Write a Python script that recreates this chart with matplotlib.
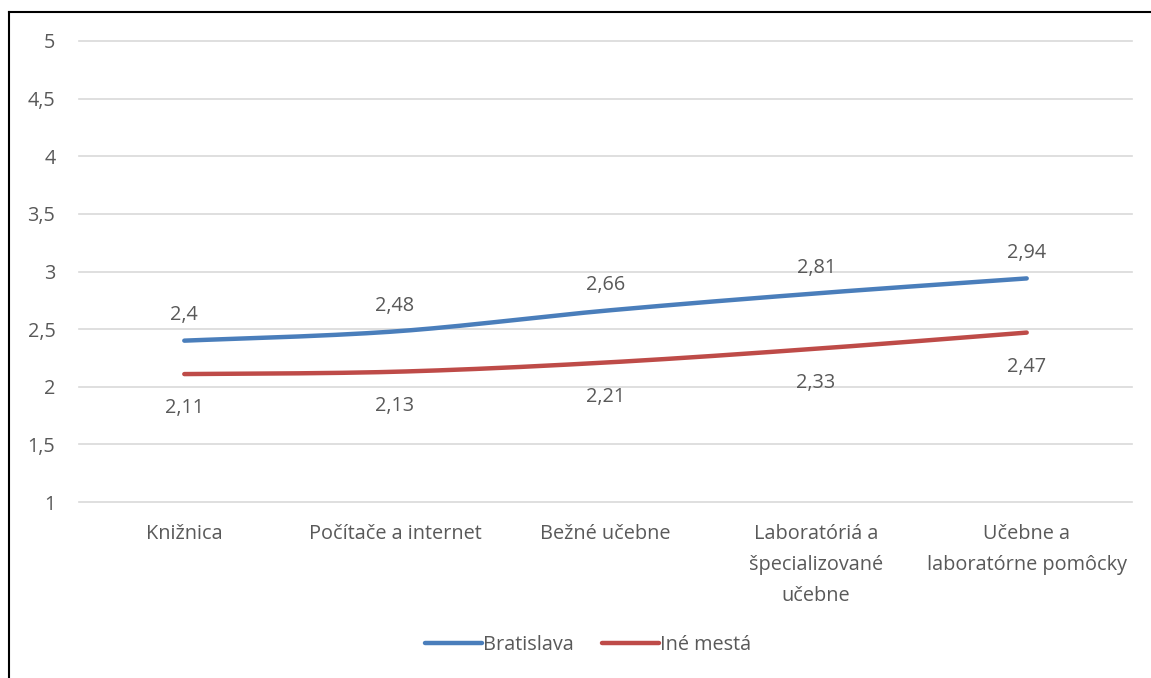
import numpy as np
import matplotlib
matplotlib.use('Agg')
import matplotlib.pyplot as plt
from matplotlib.lines import Line2D

categories = ['Knižnica', 'Počítače a internet', 'Bežné učebne',
              'Laboratóriá a\nšpecializované\nučebne', 'Učebne a\nlaboratórne pomôcky']
bratislava = [2.4, 2.48, 2.66, 2.81, 2.94]
ine_mesta = [2.11, 2.13, 2.21, 2.33, 2.47]
yticks = [1, 1.5, 2, 2.5, 3, 3.5, 4, 4.5, 5]

TXT = '#595959'
FS = 14.3
plt.rcParams['font.family'] = ['Open Sans', 'DejaVu Sans']


def smooth(x, y, n=40):
    # Catmull-Rom style smoothing like Excel's smoothed line
    x = np.asarray(x, float)
    y = np.asarray(y, float)
    xs, ys = [], []
    for i in range(len(x) - 1):
        p0 = (x[max(i - 1, 0)], y[max(i - 1, 0)])
        p1 = (x[i], y[i])
        p2 = (x[i + 1], y[i + 1])
        p3 = (x[min(i + 2, len(x) - 1)], y[min(i + 2, len(x) - 1)])
        c1 = (p1[0] + (p2[0] - p0[0]) / 6, p1[1] + (p2[1] - p0[1]) / 6)
        c2 = (p2[0] - (p3[0] - p1[0]) / 6, p2[1] - (p3[1] - p1[1]) / 6)
        t = np.linspace(0, 1, n)
        for k in range(2):
            pts = [p1[k], c1[k], c2[k], p2[k]]
            v = ((1 - t) ** 3 * pts[0] + 3 * (1 - t) ** 2 * t * pts[1]
                 + 3 * (1 - t) * t ** 2 * pts[2] + t ** 3 * pts[3])
            (xs if k == 0 else ys).append(v)
    return np.concatenate(xs), np.concatenate(ys)


fig = plt.figure(figsize=(11.51, 6.78), dpi=100)
ax = fig.add_axes([79 / 1151, 1 - 502 / 678, (1132 - 79) / 1151, (502 - 41) / 678])

x = np.arange(len(categories))
sx, sy = smooth(x, bratislava)
ax.plot(sx, sy, color='#4A7EBB', lw=3.2, solid_capstyle='round', label='Bratislava')
sx, sy = smooth(x, ine_mesta)
ax.plot(sx, sy, color='#BE4B48', lw=3.2, solid_capstyle='round', label='Iné mestá')

for xi, v in zip(x, bratislava):
    ax.annotate(('%g' % v).replace('.', ','), (xi, v), xytext=(0, 18.5), textcoords='offset points',
                ha='center', va='center', fontsize=FS, color=TXT)
for xi, v in zip(x, ine_mesta):
    ax.annotate(('%g' % v).replace('.', ','), (xi, v), xytext=(0, -24.5), textcoords='offset points',
                ha='center', va='center', fontsize=FS, color=TXT)

ax.set_xlim(-0.5, len(categories) - 0.5)
ax.set_ylim(1, 5)
ax.set_yticks(yticks)
ax.set_yticklabels([('%g' % t).replace('.', ',') for t in yticks])
ax.set_xticks(x)
ax.set_xticklabels(categories, linespacing=1.72)
ax.tick_params(axis='both', length=0, labelsize=FS, colors=TXT)
ax.tick_params(axis='y', pad=17)
ax.tick_params(axis='x', pad=16)
ax.grid(axis='y', color='#D9D9D9', lw=1.2)
for gl in ax.get_ygridlines():
    gl.set_clip_on(False)
ax.set_axisbelow(True)
for s in ax.spines.values():
    s.set_visible(False)

handles, labels = ax.get_legend_handles_labels()
fig.legend(handles, labels, loc='center', bbox_to_anchor=(588 / 1151, 1 - 645 / 678), ncol=2,
           frameon=False, fontsize=FS, labelcolor=TXT, handlelength=2.9, handletextpad=0.05,
           columnspacing=1.4)

# chart border (only left and top visible in the crop)
fig.add_artist(Line2D([8.5 / 1151, 8.5 / 1151], [0, 1 - 11.5 / 678], color='black', lw=1.5))
fig.add_artist(Line2D([8.5 / 1151, 1], [1 - 11.5 / 678, 1 - 11.5 / 678], color='black', lw=1.5))

fig.savefig('out.png', dpi=100)
